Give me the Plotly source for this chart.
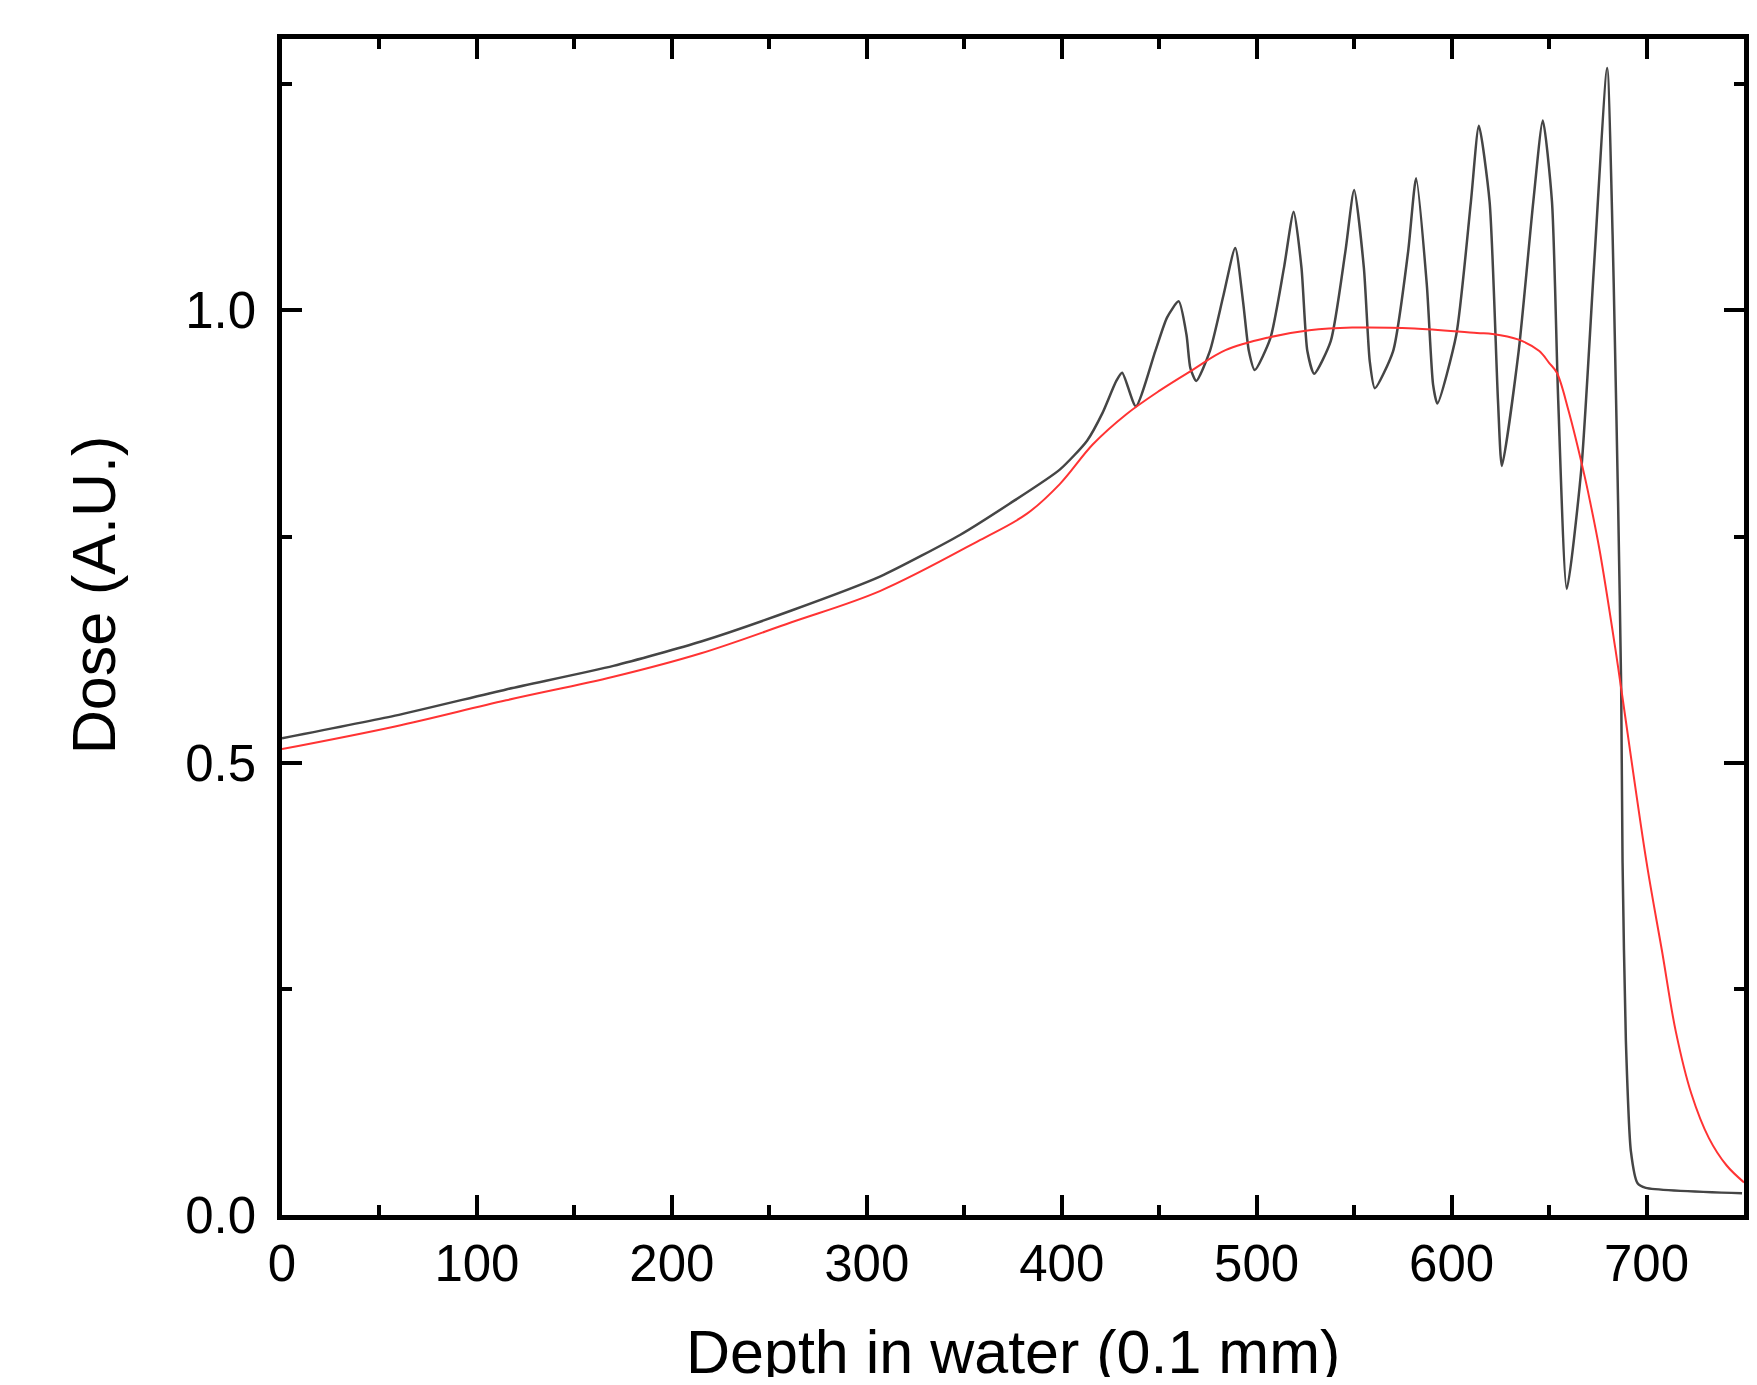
import plotly.graph_objects as go

# black curve - modulated (ripple) depth dose
depth_black = [0, 58, 115, 170, 215, 261, 307, 348, 373, 399, 413, 421, 428, 431, 438,
               448, 454, 460, 464, 466, 469,
               476, 483, 489, 493, 496, 499,
               507, 514, 519, 523, 526, 529.5,
               538, 545.5, 550, 555, 558, 560.6,
               570, 577.7, 581.8, 587.3, 590.5, 592.7,
               602.4, 609.9, 614, 619.5, 623.8, 625.8,
               634.4, 641.9, 646.8, 651.5, 654.7, 659.1,
               666.6, 673, 679.8, 682.6, 683.7, 685.4, 687, 687.7, 689.4, 692, 695.4, 699.6, 749]
dose_black = [0.527, 0.552, 0.581, 0.607, 0.634, 0.668, 0.706, 0.752, 0.786, 0.824, 0.856, 0.887, 0.922, 0.931, 0.894,
              0.955, 0.992, 1.010, 0.973, 0.936, 0.922,
              0.955, 1.017, 1.069, 1.010, 0.955, 0.934,
              0.969, 1.047, 1.109, 1.047, 0.955, 0.930,
              0.966, 1.065, 1.133, 1.047, 0.944, 0.914,
              0.955, 1.065, 1.146, 1.028, 0.918, 0.897,
              0.973, 1.120, 1.204, 1.120, 0.900, 0.828,
              0.955, 1.120, 1.210, 1.120, 0.900, 0.692,
              0.826, 1.047, 1.268, 1.083, 0.973, 0.789, 0.582, 0.390, 0.193, 0.070, 0.035, 0.030, 0.024]

# red curve - smooth spread-out peak
depth_red = [0, 58, 115, 170, 215, 261, 307, 358, 382, 399, 416, 433, 450, 467, 484, 506, 527, 549,
             581, 613, 621, 634, 645, 650, 654, 660, 668, 671, 676, 684, 687, 700, 708, 715, 723, 732, 741, 750]
dose_red = [0.515, 0.540, 0.569, 0.595, 0.621, 0.655, 0.690, 0.746, 0.775, 0.808, 0.852, 0.885, 0.911, 0.934,
            0.956, 0.970, 0.978, 0.981, 0.980, 0.975, 0.974, 0.968, 0.955, 0.942, 0.931, 0.889, 0.819, 0.789,
            0.734, 0.626, 0.582, 0.390, 0.291, 0.203, 0.134, 0.085, 0.055, 0.036]

x_ticks = [0, 100, 200, 300, 400, 500, 600, 700]
y_ticks = [0.0, 0.5, 1.0]
y_ticktext = ["0.0", "0.5", "1.0"]

FONT = "Liberation Sans, Arial, sans-serif"

fig = go.Figure()
fig.add_trace(go.Scatter(x=depth_black, y=dose_black, mode="lines",
                         line=dict(color="#454545", width=2.5, shape="spline", smoothing=0.6)))
fig.add_trace(go.Scatter(x=depth_red, y=dose_red, mode="lines",
                         line=dict(color="#ff3333", width=2, shape="spline", smoothing=1.0)))

axis_style = dict(showline=True, linecolor="black", linewidth=4.5, mirror="allticks",
                  ticks="inside", ticklen=20, tickwidth=4, tickcolor="black",
                  showgrid=False, zeroline=False,
                  tickfont=dict(family=FONT, size=51, color="black"))

fig.update_xaxes(range=[0, 750], tickvals=x_ticks,
                 minor=dict(dtick=50, ticks="inside", ticklen=10, tickwidth=4, tickcolor="black", tick0=0),
                 **axis_style)
fig.update_yaxes(range=[0, 1.3], tickvals=y_ticks, ticktext=y_ticktext, ticklabelstandoff=11,
                 minor=dict(dtick=0.25, ticks="inside", ticklen=10, tickwidth=4, tickcolor="black", tick0=0),
                 **axis_style)

fig.add_annotation(text="Depth in water (0.1 mm)", xref="paper", yref="paper", x=0.5, y=-0.1168,
                   xanchor="center", yanchor="middle", showarrow=False,
                   font=dict(family=FONT, size=61, color="black"))
fig.add_annotation(text="Dose (A.U.)", xref="paper", yref="paper", x=-0.1284, y=0.5272,
                   xanchor="center", yanchor="middle", showarrow=False, textangle=-90,
                   font=dict(family=FONT, size=61, color="black"))

# page body keeps an 8px margin, so the figure is 16px smaller than the window
fig.update_layout(width=1741, height=1369, showlegend=False,
                  plot_bgcolor="white", paper_bgcolor="white",
                  margin=dict(l=274, r=0, t=31, b=162))

fig.write_html("out.html")
